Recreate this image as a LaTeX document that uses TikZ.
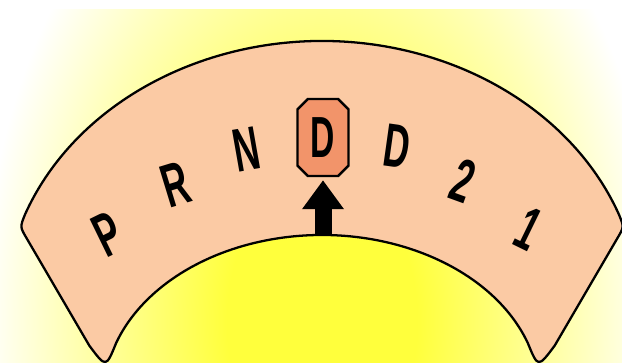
\documentclass[tikz,border=0pt]{standalone}
\usepackage{fontspec}
\usepackage{xcolor}
\usepackage{tikz}
\usetikzlibrary{arrows.meta,shapes.misc}
\newfontfamily\gearfont[FakeStretch=0.58]{Liberation Sans}
\definecolor{bandpeach}{HTML}{FBCAA4}
\definecolor{selorange}{HTML}{F2946A}
\definecolor{glowyellow}{HTML}{FFFF3C}
\pgfdeclareradialshading{glow}{\pgfpoint{0bp}{0bp}}{%
  color(0bp)=(glowyellow); color(7bp)=(glowyellow);
  color(19bp)=(glowyellow!35!white); color(25bp)=(white); color(50bp)=(white)}

\begin{document}
\begin{tikzpicture}[x=0.02cm,y=0.02cm,
  gear/.style={font=\gearfont\bfseries\fontsize{35}{40}\selectfont,inner sep=0pt},
  selbox/.style={chamfered rectangle,chamfered rectangle xsep=3pt,draw,line width=1.4pt,
    fill=selorange,minimum width=1.02cm,minimum height=1.54cm,inner sep=0pt,
    font=\gearfont\bfseries\fontsize{33}{38}\selectfont},
  pointerarrow/.style={line width=0.34cm,-{Triangle[width=0.8cm,length=0.58cm]},shorten >=0.06cm}]
  \useasboundingbox (0,0) rectangle (622,362);
  % background glow (1 unit = 1 px of the 622x362 frame)
  \begin{scope}
    \clip (0,0) rectangle (622,352);
    \shade[shading=glow] (-18,-480) rectangle (662,560);
  \end{scope}
  % selector band, corners rounded by hand
  \draw[fill=bandpeach,line width=1.3pt]
    (89.3,16.4) -- (26.6,123.8) .. controls (20,135) .. (24.9,147.3)
    arc[start angle=159.1,end angle=20.9,x radius=318,y radius=270]
    .. controls (624,135) .. (617.4,123.8) -- (554.7,16.4)
    .. controls (538,-6) .. (527.7,19.2)
    arc[start angle=19.3,end angle=160.7,x radius=218,y radius=161]
    .. controls (106,-6) .. (89.3,16.4) -- cycle;
  % gear letters
  \node[gear,rotate=26]  (gP) at (108,128){P};
  \node[gear,rotate=17]  (gR) at (176,177){R};
  \node[gear,rotate=10]  (gN) at (247,213){N};
  \node[selbox]          (gDsel) at (323,224.5){D};
  \node[gear,rotate=-8]  (gD) at (397,216){D};
  \node[gear,rotate=-20] (g2) at (463,181){2};
  \node[gear,rotate=-26] (g1) at (529,133){1};
  % pointer
  \coordinate (pointer) at (323,127);
  \draw[pointerarrow] (pointer) -- (gDsel.south);
\end{tikzpicture}
\end{document}
